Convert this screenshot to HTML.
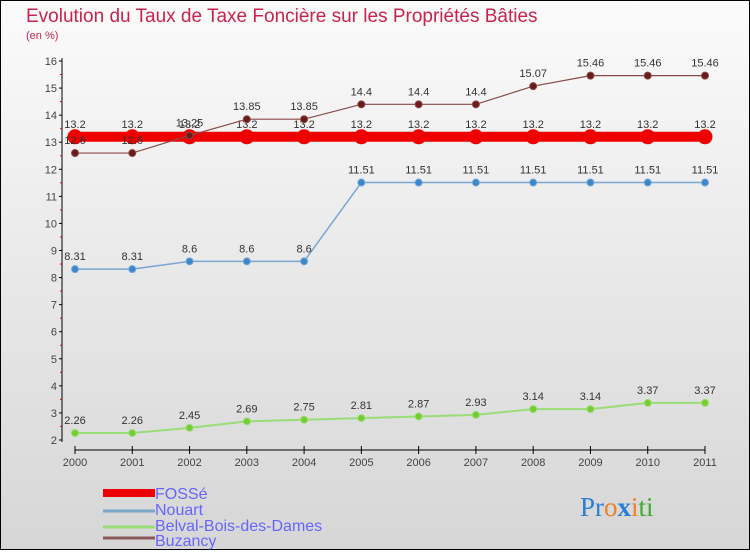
<!DOCTYPE html>
<html><head><meta charset="utf-8"><style>
body{margin:0;width:750px;height:550px;overflow:hidden;font-family:"Liberation Sans",sans-serif}
</style></head><body>
<svg width="750" height="550" xmlns="http://www.w3.org/2000/svg">
<defs><linearGradient id="bg" x1="0" y1="0" x2="0" y2="1"><stop offset="0" stop-color="#fbfbfb"/><stop offset="1" stop-color="#d6d6d6"/></linearGradient></defs>
<rect x="0.5" y="0.5" width="749" height="549" fill="url(#bg)" stroke="#000"/>
<text x="26" y="22" font-size="19" fill="#c8234f">Evolution du Taux de Taxe Foncière sur les Propriétés Bâties</text>
<text x="26" y="39" font-size="11" fill="#c8234f">(en %)</text>
<g id="axes"></g><g id="series"></g>
<g font-size="16" fill="#6666ff">
<rect x="103" y="489" width="52" height="8" fill="#e00"/>
<text x="155" y="499">FOSSé</text>
<line x1="103" y1="511" x2="155" y2="511" stroke="#7aa6c8" stroke-width="3"/>
<text x="155" y="515">Nouart</text>
<line x1="103" y1="527" x2="155" y2="527" stroke="#99dd77" stroke-width="3"/>
<text x="155" y="531">Belval-Bois-des-Dames</text>
<line x1="103" y1="538" x2="155" y2="538" stroke="#8a5a5a" stroke-width="3"/>
<text x="155" y="546">Buzancy</text>
</g>
<text x="580" y="516" font-size="27" font-family="Liberation Serif, serif"><tspan fill="#2a7fd4">Pr</tspan><tspan fill="#f08020">o</tspan><tspan fill="#2a7fd4" font-weight="bold">x</tspan><tspan fill="#f08020">i</tspan><tspan fill="#44aa33">ti</tspan></text>
</svg>
<script>
const years=[2000,2001,2002,2003,2004,2005,2006,2007,2008,2009,2010,2011];
const yTicks=[2,3,4,5,6,7,8,9,10,11,12,13,14,15,16];
const fosse=[13.2,13.2,13.2,13.2,13.2,13.2,13.2,13.2,13.2,13.2,13.2,13.2];
const nouart=[8.31,8.31,8.6,8.6,8.6,11.51,11.51,11.51,11.51,11.51,11.51,11.51];
const belval=[2.26,2.26,2.45,2.69,2.75,2.81,2.87,2.93,3.14,3.14,3.37,3.37];
const buzancy=[12.6,12.6,13.25,13.85,13.85,14.4,14.4,14.4,15.07,15.46,15.46,15.46];
const NS='http://www.w3.org/2000/svg';
function X(i){return 75+i*(705-75)/11;}
function Y(v){return 440-(v-2)*(440-61)/14;}
function mk(tag,attrs,parent,text){const e=document.createElementNS(NS,tag);for(const k in attrs)e.setAttribute(k,attrs[k]);if(text!==undefined)e.textContent=text;parent.appendChild(e);return e;}
const ax=document.getElementById('axes');
let yl=mk('line',{x1:62,y1:58,x2:62,y2:442,stroke:'#000'},ax);


yTicks.forEach(v=>{
 mk('line',{x1:59,y1:Y(v),x2:62,y2:Y(v),stroke:'#000'},ax);
 if(v<16)mk('line',{x1:60,y1:Y(v+0.5),x2:62,y2:Y(v+0.5),stroke:'#e00'},ax);
 const t=mk('text',{x:57,y:Y(v)+4,'font-size':11,fill:'#444','text-anchor':'end'},ax,v);
 
 
});
let xl=mk('line',{x1:75,y1:450,x2:705,y2:450,stroke:'#000'},ax);


years.forEach((y,i)=>{
 mk('line',{x1:X(i),y1:446,x2:X(i),y2:454,stroke:'#000'},ax);
 const t=mk('text',{x:X(i),y:466,'font-size':11,fill:'#444','text-anchor':'middle'},ax,y);
 
 
});
const sg=document.getElementById('series');
function draw(vals,color,lw,r,dot,name){
 const g=mk('g',{},sg);
 
 
 const pl=mk('polyline',{points:vals.map((v,i)=>X(i)+','+Y(v)).join(' '),fill:'none',stroke:color,'stroke-width':lw},g);
 
 
 vals.forEach((v,i)=>{
  const c=mk('circle',{cx:X(i),cy:Y(v),r:r,fill:dot,stroke:color,'stroke-width':1},g);
  
  
  const t=mk('text',{x:X(i),y:Y(v)-9,'font-size':11,fill:'#333','text-anchor':'middle'},g,String(v));
  
  
 });
}
draw(fosse,'#e00',10,7,'#e00','fosse');
draw(nouart,'#7aa6d4',1.5,3.5,'#3a88cc','nouart');
draw(belval,'#99dd77',2,3.5,'#77cc33','belval');
draw(buzancy,'#8a4a4a',1.2,3.5,'#6a1a1a','buzancy');
</script>
</body></html>
